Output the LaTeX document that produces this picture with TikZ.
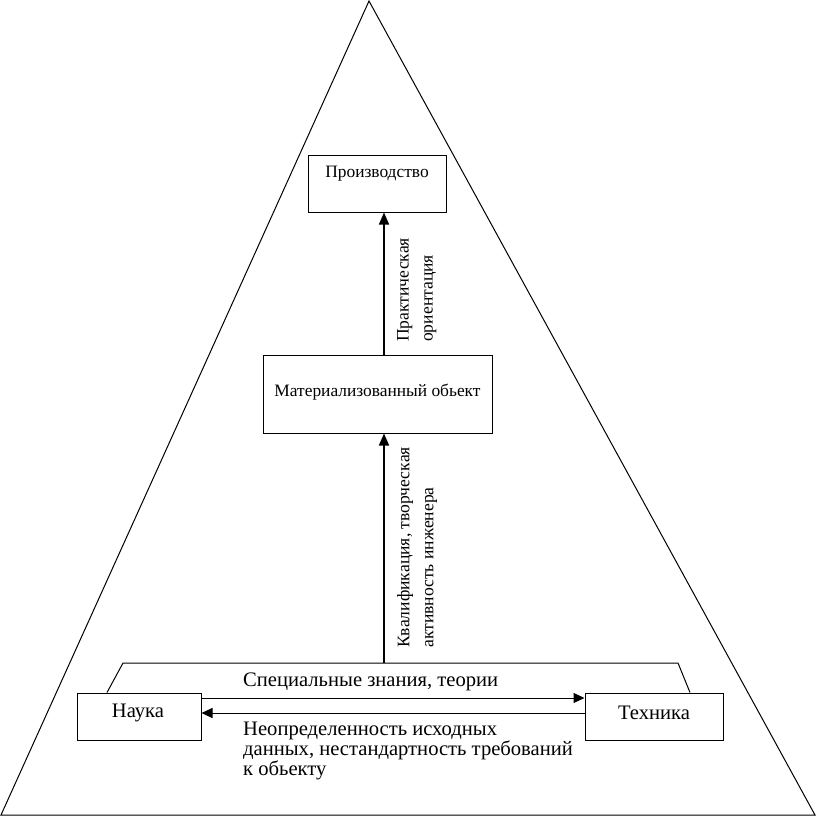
\documentclass[tikz,border=0pt]{standalone}
\usepackage{fontspec}
\setmainfont{Liberation Serif}
\usetikzlibrary{arrows.meta}
\begin{document}
\begin{tikzpicture}[x=1pt,y=-1pt,
  frame/.style={draw, line width=1pt, inner sep=0pt},
  lbl/.style={inner sep=0pt, font=\fontsize{17.4}{20}\selectfont},
  big/.style={inner sep=0pt, font=\fontsize{20.6}{20.4}\selectfont},
  rot/.style={inner sep=0pt, rotate=90, anchor=north west, align=left, font=\fontsize{17.6}{24}\selectfont},
  conn/.style={line width=1pt},
  arr/.style={line width=1pt, -{Triangle[length=11pt,width=10pt]}},
  varr/.style={line width=1.6pt, -{Triangle[length=12pt,width=10pt]}}]
\useasboundingbox (0,0) rectangle (816,817);
% triangle
\coordinate (apex) at (369,1);
\coordinate (bl) at (1,815);
\coordinate (br) at (815,815);
\draw[conn] (apex) -- (br) -- (bl) -- cycle;
% boxes
\node[frame, minimum width=138pt, minimum height=57pt] (prod) at (377,183.5) {};
\node[lbl] (prodtext) at (377,174) {Производство};
\node[frame, minimum width=229pt, minimum height=78pt] (mat) at (377.5,394) {};
\node[lbl] (mattext) at (377.5,392) {Материализованный обьект};
\node[frame, minimum width=124pt, minimum height=47pt] (nauka) at (139,716.5) {};
\node[big] (naukatext) at (138,713) {Наука};
\node[frame, minimum width=138pt, minimum height=47pt] (tech) at (654,716.5) {};
\node[big] (techtext) at (654,713) {Техника};
% vertical arrows
\coordinate (ax) at (384,0);
\coordinate (ltop) at (123,663);
\coordinate (rtop) at (678,663);
\coordinate (mid) at (384,663);
\draw[varr] (mat.north -| ax) -- (prod.south -| ax);
\draw[varr] (mid) -- (mat.south -| ax);
% bracket
\draw[conn] ([xshift=-32pt]nauka.north) -- (ltop) -- (rtop) -- ([xshift=36pt]tech.north);
% horizontal arrows
\draw[arr] ([yshift=18.5pt]nauka.east) -- ([yshift=18.5pt]tech.west);
\draw[arr] ([yshift=3.5pt]tech.west) -- ([yshift=3.5pt]nauka.east);
% labels
\node[big, anchor=west] (spec) at (243,682) {Специальные знания, теории};
\node[big, anchor=north west, align=left] (neop) at (243,721.5) {Неопределенность исходных\\данных, нестандартность требований\\к обьекту};
\node[rot] (prak) at (397,342) {Практическая\\ориентация};
\node[rot] (kval) at (397,648) {Квалификация, творческая\\активность инженера};
\end{tikzpicture}
\end{document}
